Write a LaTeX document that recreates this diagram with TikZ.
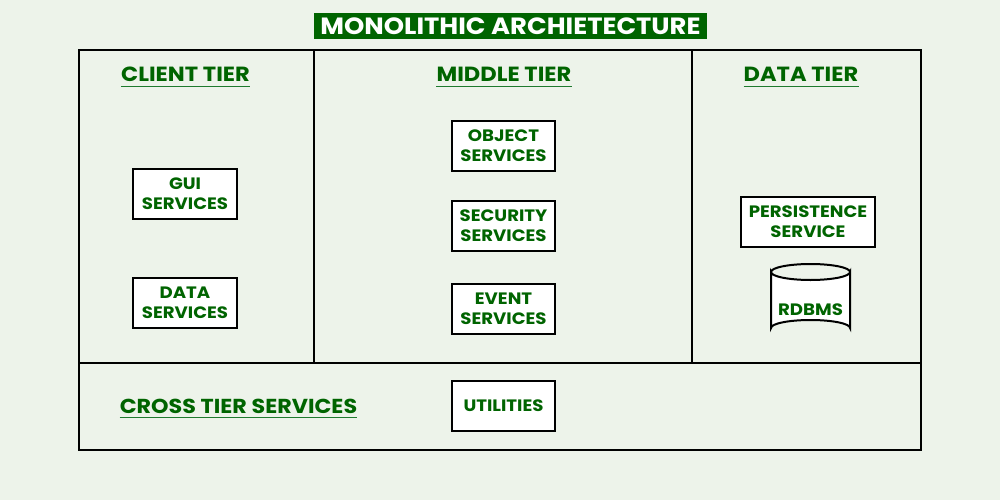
\documentclass[tikz,border=0pt]{standalone}
\usepackage{fontspec}
\setmainfont{Poppins}[UprightFont=* SemiBold, BoldFont=* Bold, FakeStretch=1.1]
\definecolor{bg}{HTML}{EDF3EA}
\definecolor{gr}{HTML}{006400}
\definecolor{ul}{HTML}{1E7A2E}
\begin{document}
\begin{tikzpicture}[x=1pt,y=-1pt,
  svc/.style={draw=black,line width=2pt,fill=white,text=gr,font=\fontsize{16.5}{20}\selectfont\bfseries,align=center,inner sep=0pt,minimum width=104pt,minimum height=50pt},
  head/.style={text=gr,font=\fontsize{20.5}{22}\selectfont\bfseries,inner sep=0pt,anchor=base},
  frame/.style={line width=1.6pt,draw=black}]
\fill[bg] (0,0) rectangle (1000,500);
\useasboundingbox (0,0) rectangle (1000,500);
% title
\node[fill=gr,text=white,font=\fontsize{23.5}{24}\selectfont\bfseries,minimum width=393pt,minimum height=26pt,inner sep=0pt] (title) at (510.5,26) {MONOLITHIC ARCHIETECTURE};
% frame
\draw[frame] (79,50) rectangle (921,450);
\coordinate (v1t) at (314,50); \coordinate (v1b) at (314,363);
\coordinate (v2t) at (692,50); \coordinate (v2b) at (692,363);
\coordinate (hl) at (79,363); \coordinate (hr) at (921,363);
\draw[frame] (v1t) -- (v1b);
\draw[frame] (v2t) -- (v2b);
\draw[frame] (hl) -- (hr);
% headings
\node[head] (client) at (185.5,82) {CLIENT TIER};
\node[head] (middle) at (504,82) {MIDDLE TIER};
\node[head] (data) at (801,82) {DATA TIER};
\node[head,font=\fontsize{20.2}{22}\selectfont\bfseries] (cross) at (238.5,413) {CROSS TIER SERVICES};
\foreach \n in {client,middle,data,cross}
  \draw[ul,line width=1.6pt] ([yshift=-4.5pt]\n.base west) -- ([yshift=-4.5pt]\n.base east);
% boxes
\node[svc] (gui) at (185,194) {GUI\\SERVICES};
\node[svc] (dsvc) at (185,303) {DATA\\SERVICES};
\node[svc,minimum width=103pt] (obj) at (503.5,146) {OBJECT\\SERVICES};
\node[svc,minimum width=103pt] (sec) at (503.5,226) {SECURITY\\SERVICES};
\node[svc,minimum width=103pt] (evt) at (503.5,309) {EVENT\\SERVICES};
\node[svc,minimum width=134pt] (pers) at (808,222) {PERSISTENCE\\SERVICE};
\node[svc,minimum width=103pt] (util) at (503.5,406) {UTILITIES};
% cylinder
\filldraw[fill=white,draw=black,line width=2pt] (771,272) -- (771,328) arc[start angle=180,end angle=360,x radius=39.5,y radius=8] -- (850,272) arc[start angle=0,end angle=180,x radius=39.5,y radius=8] -- cycle;
\draw[line width=2pt] (771,272) arc[start angle=180,end angle=360,x radius=39.5,y radius=8];
\node[text=gr,font=\fontsize{16.5}{20}\selectfont\bfseries,inner sep=0pt] (rdbms) at (810.5,310) {RDBMS};
\end{tikzpicture}
\end{document}
